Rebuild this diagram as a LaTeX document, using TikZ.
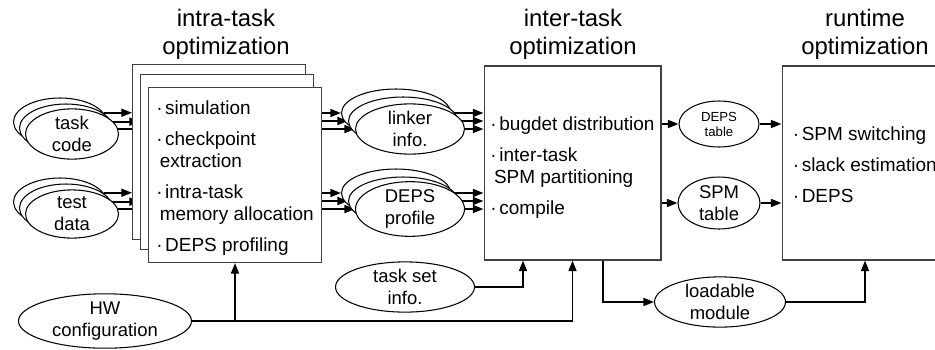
\documentclass[tikz,border=0pt]{standalone}
\usepackage{fontspec}
\setmainfont{Liberation Sans}
\usetikzlibrary{arrows.meta,shapes.geometric,backgrounds}

\newcommand{\itm}{\textperiodcentered\kern1.5pt}
\newcommand{\cnt}{\kern2pt}

\tikzset{
	box/.style={draw=black!75, line width=0.6pt, fill=white, inner sep=0pt},
	list/.style={align=left, inner sep=0pt, font=\fontsize{10.8}{12.6}\selectfont},
	blob/.style={ellipse, draw=black, line width=0.6pt, fill=white, inner sep=0pt, align=center,
		font=\fontsize{10.5}{12.5}\selectfont},
	heading/.style={align=center, font=\fontsize{13.6}{16}\selectfont},
	flow/.style={line width=1pt, -{Triangle[length=6pt,width=4.5pt]}},
}

\begin{document}
\begin{tikzpicture}[x=0.02cm, y=-0.02cm]
		%%%%% START %%%%%
		\useasboundingbox (0,0) rectangle (935,349);
		\clip (0,0) rectangle (935,349);
		
		\node[heading] (intraT) at (226,34) {intra-task\\optimization};
		\node[heading] (interT) at (573,34) {inter-task\\optimization};
		\node[heading] (rtT) at (865,34) {runtime\\optimization};
		
		% stacked intra-task boxes
		\node[box, minimum width=3.46cm, minimum height=3.5cm] (intraA) at (219,152) {};
		\node[box, minimum width=3.46cm, minimum height=3.5cm] (intraB) at (227,162) {};
		\node[box, minimum width=3.46cm, minimum height=3.5cm] (intraC) at (235,175) {};
		\node[list] (intraL) at ([yshift=-0.06cm]intraC.center)
			{\itm simulation\\[5pt]\itm checkpoint\\\cnt extraction\\[5pt]\itm intra-task\\\cnt memory allocation\\[5pt]\itm DEPS profiling};
		
		\node[box, minimum width=3.54cm, minimum height=3.88cm] (inter) at (572.5,163) {};
		\node[list] (interL) at ([yshift=-0.1cm]inter.center)
			{\itm bugdet distribution\\[5pt]\itm inter-task\\\cnt SPM partitioning\\[5pt]\itm compile};
		
		\node[box, minimum width=3.52cm, minimum height=3.88cm] (rt) at (870,163) {};
		\node[list, anchor=west] (rtL) at ([xshift=0.22cm, yshift=-0.04cm]rt.west)
			{\itm SPM switching\\[5pt]\itm slack estimation\\[5pt]\itm DEPS};
		
		% inputs
		\node[blob, minimum width=1.86cm, minimum height=0.96cm] (tcA) at (60,122) {};
		\node[blob, minimum width=1.86cm, minimum height=0.96cm] (tcB) at (66,128) {};
		\node[blob, minimum width=1.86cm, minimum height=0.96cm] (tcC) at (72,134) {task\\code};
		
		\node[blob, minimum width=1.86cm, minimum height=0.96cm] (tdA) at (60,202) {};
		\node[blob, minimum width=1.86cm, minimum height=0.96cm] (tdB) at (66,208) {};
		\node[blob, minimum width=1.86cm, minimum height=0.96cm] (tdC) at (72,214) {test\\data};
		
		\node[blob, minimum width=3.46cm, minimum height=1.04cm] (hw) at (105,321) {HW\\configuration};
		\node[blob, minimum width=2.78cm, minimum height=0.9cm] (ts) at (405,287) {task set\\info.};
		
		% intermediate results
		\node[blob, minimum width=2.18cm, minimum height=0.96cm] (lkA) at (396,113) {};
		\node[blob, minimum width=2.18cm, minimum height=0.96cm] (lkB) at (403,121) {};
		\node[blob, minimum width=2.18cm, minimum height=0.96cm] (lkC) at (410,129) {linker\\info.};
		
		\node[blob, minimum width=2.18cm, minimum height=0.96cm] (dpA) at (396,193) {};
		\node[blob, minimum width=2.18cm, minimum height=0.96cm] (dpB) at (403,201) {};
		\node[blob, minimum width=2.18cm, minimum height=0.96cm] (dpC) at (410,209) {DEPS\\profile};
		
		\node[blob, minimum width=1.6cm, minimum height=0.92cm, font=\fontsize{7.5}{8.5}\selectfont] (dt) at (719,124) {DEPS\\table};
		\node[blob, minimum width=1.64cm, minimum height=1.04cm] (st) at (719,203) {SPM\\table};
		\node[blob, minimum width=2.62cm, minimum height=0.94cm] (lm) at (720,302) {loadable\\module};
		
		\begin{scope}[on background layer]
			\draw[flow] (tcA.12) -- (tcA.12 -| intraA.west);
			\draw[flow] (tcB.8) -- (tcB.8 -| intraB.west);
			\draw[flow] (tcC.6) -- (tcC.6 -| intraC.west);
			\draw[flow] (tdA.12) -- (tdA.12 -| intraA.west);
			\draw[flow] (tdB.8) -- (tdB.8 -| intraB.west);
			\draw[flow] (tdC.6) -- (tdC.6 -| intraC.west);
			
			\draw[flow] (intraC.east |- lkA.west) -- (lkA.west);
			\draw[flow] (intraC.east |- lkB.west) -- (lkB.west);
			\draw[flow] (intraC.east |- lkC.west) -- (lkC.west);
			\draw[flow] (intraC.east |- dpA.west) -- (dpA.west);
			\draw[flow] (intraC.east |- dpB.west) -- (dpB.west);
			\draw[flow] (intraC.east |- dpC.west) -- (dpC.west);
			
			\draw[flow] (lkA.east) -- (lkA.east -| inter.west);
			\draw[flow] (lkB.east) -- (lkB.east -| inter.west);
			\draw[flow] (lkC.east) -- (lkC.east -| inter.west);
			\draw[flow] (dpA.east) -- (dpA.east -| inter.west);
			\draw[flow] (dpB.east) -- (dpB.east -| inter.west);
			\draw[flow] (dpC.east) -- (dpC.east -| inter.west);
		\end{scope}
		
		\draw[flow] (hw.east) -| (inter.south);
		\draw[flow] (hw.east -| intraC.south) -- (intraC.south);
		\draw[flow] (ts.east) -| ([xshift=-0.99cm]inter.south);
		
		\draw[flow] (dt.west -| inter.east) -- (dt.west);
		\draw[flow] (dt.east) -- (dt.east -| rt.west);
		\draw[flow] (st.west -| inter.east) -- (st.west);
		\draw[flow] (st.east) -- (st.east -| rt.west);
		
		\draw[flow] ([xshift=0.61cm]inter.south) |- (lm.west);
		\draw[flow] (lm.east) -| ([xshift=-0.1cm]rt.south);
		%%%%% END %%%%%
\end{tikzpicture}
\end{document}
